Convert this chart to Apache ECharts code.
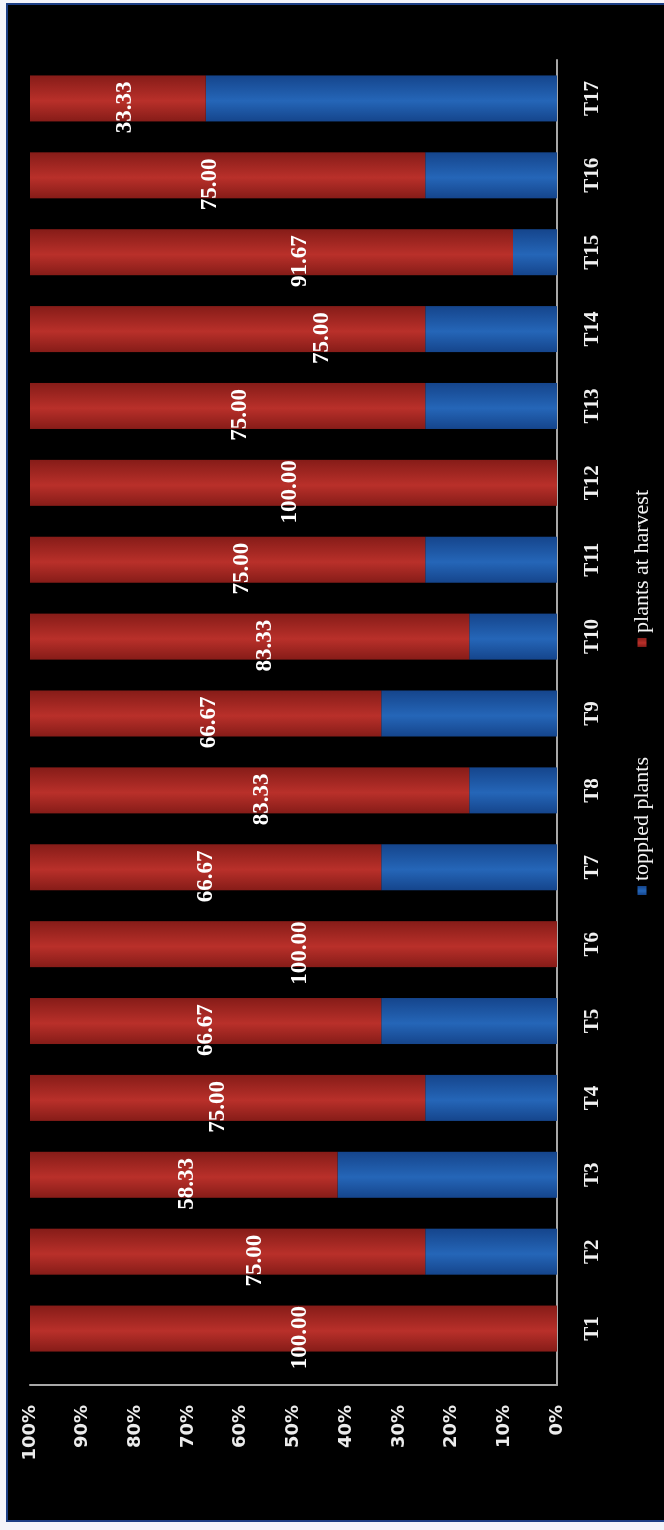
<!DOCTYPE html>
<html>
<head>
<meta charset="utf-8">
<script src="https://cdn.jsdelivr.net/npm/echarts@6/dist/echarts.min.js"></script>
<style>
  html, body { margin: 0; padding: 0; background: #f4f4fa; width: 664px; height: 1530px; overflow: hidden; }
  #frame {
    position: absolute; left: 6px; top: 3px; width: 656px; height: 1515px;
    background: #000; border: 2px solid #1d3f86; border-right: none;
  }
  #chart {
    position: absolute; left: 0; top: 0; width: 1530px; height: 664px;
    transform-origin: 0 0; transform: translate(0, 1530px) rotate(-90deg);
  }
</style>
</head>
<body>
<div id="frame"></div>
<div id="chart"></div>
<script>
// Treatments
const categories = ['T1','T2','T3','T4','T5','T6','T7','T8','T9','T10','T11','T12','T13','T14','T15','T16','T17'];
// Share of plants standing at harvest (%)
const plantsAtHarvest = [100.00, 75.00, 58.33, 75.00, 66.67, 100.00, 66.67, 83.33, 66.67, 83.33, 75.00, 100.00, 75.00, 75.00, 91.67, 75.00, 33.33];
// Share of toppled plants (%)
const toppledPlants = [0.00, 25.00, 41.67, 25.00, 33.33, 0.00, 33.33, 16.67, 33.33, 16.67, 25.00, 0.00, 25.00, 25.00, 8.33, 25.00, 66.67];
// Value axis ticks
const percentTicks = [0, 10, 20, 30, 40, 50, 60, 70, 80, 90, 100];

// Hand-placed value labels: vertical nudge (px) for each treatment's label
const labelNudge = [7, 27, 3, -10, 0, 7, 0, 12, 3, 15, 14, -3, 12, 94, 29, -18, 7];

const chart = echarts.init(document.getElementById('chart'), null, { width: 1530, height: 664, renderer: 'canvas' });

function tube(edge, mid) {
  return new echarts.graphic.LinearGradient(0, 0, 1, 0, [
    { offset: 0, color: edge },
    { offset: 0.45, color: mid },
    { offset: 1, color: edge }
  ]);
}

const serif = 'Liberation Serif';
const sans = 'DejaVu Sans';

chart.setOption({
  backgroundColor: 'transparent',
  animation: false,
  grid: [
    { left: 163, right: 60, top: 30, bottom: 107 },
    { left: 145, right: 60, top: 30, bottom: 107 }
  ],
  legend: {
    left: 630, top: 626, itemGap: 110,
    itemWidth: 9, itemHeight: 9,
    icon: 'rect',
    textStyle: { color: '#f2f2f2', fontFamily: serif, fontSize: 22 },
    data: ['toppled plants', 'plants at harvest']
  },
  xAxis: [
    {
      type: 'category', gridIndex: 0, data: categories,
      axisLine: { show: false }, axisTick: { show: false },
      axisLabel: { color: '#f0f0f0', fontFamily: serif, fontWeight: 'bold', fontSize: 21, margin: 25 }
    },
    {
      type: 'category', gridIndex: 1, data: [''],
      axisLine: { show: true, lineStyle: { color: '#a8a8a8', width: 2 } },
      axisTick: { show: false }, axisLabel: { show: false }
    }
  ],
  yAxis: [
    {
      type: 'value', gridIndex: 0, min: 0, max: 100, interval: 10, show: false
    },
    {
      type: 'value', gridIndex: 1, min: 0, max: 100, interval: 10,
      axisLine: { show: true, lineStyle: { color: '#a8a8a8', width: 2 } },
      axisTick: { show: false },
      splitLine: { show: false },
      axisLabel: {
        color: '#ececec', fontFamily: sans, fontWeight: 'bold', fontSize: 18, margin: 20,
        formatter: v => percentTicks.includes(v) ? v + '%' : ''
      }
    }
  ],
  series: [
    {
      name: 'toppled plants', type: 'bar', stack: 'total',
      xAxisIndex: 0, yAxisIndex: 0, barWidth: 46,
      data: toppledPlants,
      itemStyle: { color: tube('#15458c', '#2566b8') }
    },
    {
      name: 'plants at harvest', type: 'bar', stack: 'total',
      xAxisIndex: 0, yAxisIndex: 0, barWidth: 46,
      data: plantsAtHarvest.map((v, i) => ({
        value: v,
        label: { offset: [-9, labelNudge[i]] }
      })),
      itemStyle: { color: tube('#861c18', '#b9302a') },
      label: {
        show: true, position: 'inside',
        color: '#ffffff', fontFamily: serif, fontWeight: 'bold', fontSize: 23,
        formatter: p => p.value.toFixed(2)
      }
    }
  ]
});
</script>
</body>
</html>
